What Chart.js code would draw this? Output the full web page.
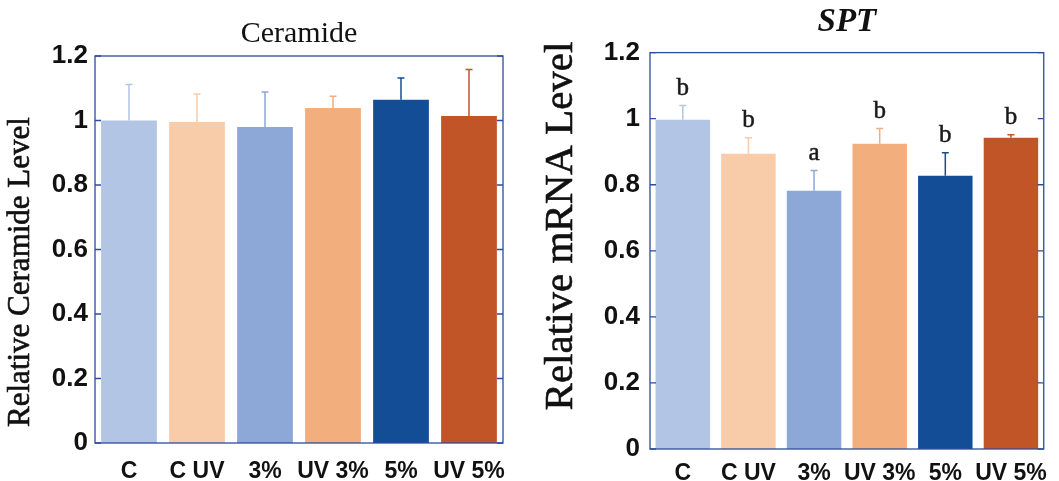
<!DOCTYPE html>
<html>
<head>
<meta charset="utf-8">
<script src="https://cdn.jsdelivr.net/npm/chart.js@4.4.1/dist/chart.umd.min.js"></script>
<style>
  html, body { margin: 0; padding: 0; background: #ffffff; }
  #wrap { position: relative; width: 1059px; height: 481px; overflow: hidden; }
  .box { position: absolute; top: 0; height: 481px; }
</style>
</head>
<body>
<div id="wrap">
  <div class="box" style="left:0;width:525px"><canvas id="c1"></canvas></div>
  <div class="box" style="left:525px;width:534px"><canvas id="c2"></canvas></div>
</div>
<script>
// ---- data ----
const categories = ["C", "C UV", "3%", "UV 3%", "5%", "UV 5%"];
const barColors = ["#B2C5E4", "#F8CBA9", "#8DA8D6", "#F3AE7E", "#134D95", "#C25527"];
const yTickValues = [0, 0.2, 0.4, 0.6, 0.8, 1, 1.2];

const ceramideTitle = "Ceramide";
const ceramideAxisTitle = "Relative Ceramide Level";
const ceramideMeans = [1.000, 0.995, 0.980, 1.039, 1.064, 1.014];
const ceramideErrors = [0.112, 0.087, 0.108, 0.036, 0.068, 0.144];

const sptTitle = "SPT";
const sptAxisTitle = "Relative mRNA Level";
const sptMeans = [0.997, 0.894, 0.782, 0.924, 0.827, 0.942];
const sptErrors = [0.043, 0.048, 0.061, 0.046, 0.070, 0.009];
const sptLetters = ["b", "b", "a", "b", "b", "b"];

const FRAME = "#2E4C9E";
const SANS = "'Liberation Sans', Arial, sans-serif";
const SERIF = "'Liberation Serif', 'Times New Roman', serif";

// plugin: frame, inward ticks, error bars, letters, vertical axis title
const decorPlugin = {
  id: 'decor',
  afterDatasetsDraw(chart, args, opts) {
    const ctx = chart.ctx;
    const a = chart.chartArea;
    const ys = chart.scales.y;
    const meta = chart.getDatasetMeta(0);
    ctx.save();
    // error bars
    meta.data.forEach((bar, i) => {
      const v = opts.means[i], e = opts.errors[i];
      const x = bar.x;
      const y0 = ys.getPixelForValue(v);
      const y1 = ys.getPixelForValue(v + e);
      ctx.strokeStyle = barColors[i];
      ctx.lineWidth = 1.5;
      ctx.beginPath();
      ctx.moveTo(x, y0); ctx.lineTo(x, y1);
      ctx.moveTo(x - 3.5, y1); ctx.lineTo(x + 3.5, y1);
      ctx.stroke();
      if (opts.letters) {
        ctx.fillStyle = "#1a1a1a";
        ctx.strokeStyle = "#1a1a1a";
        ctx.lineWidth = 0.5;
        ctx.font = "25px " + SERIF;
        ctx.textAlign = "center";
        ctx.textBaseline = "bottom";
        ctx.fillText(opts.letters[i], x, y1 - 5);
        ctx.strokeText(opts.letters[i], x, y1 - 5);
      }
    });
    // frame
    ctx.strokeStyle = FRAME;
    ctx.lineWidth = 1.3;
    ctx.strokeRect(a.left, a.top, a.right - a.left, a.bottom - a.top);
    // inward ticks
    yTickValues.forEach(t => {
      const y = ys.getPixelForValue(t);
      ctx.beginPath();
      ctx.moveTo(a.left, y); ctx.lineTo(a.left + 6, y);
      ctx.moveTo(a.right, y); ctx.lineTo(a.right - 6, y);
      ctx.stroke();
    });
    // vertical axis title
    ctx.translate(opts.axisTitleX, opts.axisTitleY);
    ctx.rotate(-Math.PI / 2);
    ctx.fillStyle = "#111";
    ctx.strokeStyle = "#111";
    ctx.lineWidth = 0.6;
    ctx.font = opts.axisTitleSize + "px " + SERIF;
    ctx.textAlign = "center";
    ctx.textBaseline = "middle";
    ctx.fillText(opts.axisTitle, 0, 0);
    ctx.strokeText(opts.axisTitle, 0, 0);
    ctx.restore();
  }
};

function makeChart(id, cfg) {
  return new Chart(document.getElementById(id), {
    type: 'bar',
    data: {
      labels: categories,
      datasets: [{
        data: cfg.means,
        backgroundColor: barColors,
        borderWidth: 0,
        barPercentage: cfg.barPct,
        categoryPercentage: 1.0
      }]
    },
    options: {
      responsive: true,
      maintainAspectRatio: false,
      animation: false,
      layout: { padding: { left: 0, right: cfg.padRight, top: 0, bottom: 0 } },
      plugins: {
        legend: { display: false },
        tooltip: { enabled: false },
        title: {
          display: true,
          text: cfg.title,
          fullSize: false,
          color: "#111",
          font: cfg.titleFont,
          padding: cfg.titlePad
        },
        decor: {
          means: cfg.means, errors: cfg.errors, letters: cfg.letters,
          axisTitle: cfg.axisTitle, axisTitleSize: cfg.axisTitleSize,
          axisTitleX: cfg.axisTitleX, axisTitleY: cfg.axisTitleY
        }
      },
      scales: {
        x: {
          grid: { display: false, drawTicks: false },
          border: { display: false },
          ticks: {
            color: "#111",
            font: { family: SANS, size: cfg.xFontSize, weight: 'bold' },
            padding: cfg.xPad,
            maxRotation: 0, autoSkip: false
          },
          afterFit(s) { s.height = cfg.xHeight; }
        },
        y: {
          min: 0, max: 1.2,
          afterBuildTicks(s) { s.ticks = yTickValues.map(v => ({ value: v })); },
          grid: { display: false, drawTicks: false },
          border: { display: false },
          ticks: {
            color: "#111",
            font: { family: SANS, size: cfg.yFontSize, weight: 'bold' },
            padding: cfg.yPad,
            callback: (v) => String(v)
          },
          afterFit(s) { s.width = cfg.yWidth; }
        }
      }
    },
    plugins: [decorPlugin]
  });
}

makeChart('c1', {
  means: ceramideMeans, errors: ceramideErrors, letters: null,
  title: ceramideTitle, axisTitle: ceramideAxisTitle,
  titleFont: { family: SERIF, size: 30, weight: 'normal', lineHeight: 1.2 },
  titlePad: { top: 16, bottom: 4 },
  padRight: 22, barPct: 0.82,
  xFontSize: 23, xPad: 15, xHeight: 38,
  yFontSize: 26, yPad: 7, yWidth: 95,
  axisTitleSize: 31, axisTitleX: 21, axisTitleY: 272
});

makeChart('c2', {
  means: sptMeans, errors: sptErrors, letters: sptLetters,
  title: sptTitle, axisTitle: sptAxisTitle,
  titleFont: { family: SERIF, size: 33, weight: 'bold', style: 'italic', lineHeight: 1.2 },
  titlePad: { top: 3, bottom: 10 },
  padRight: 11, barPct: 0.83,
  xFontSize: 23, xPad: 11, xHeight: 32,
  yFontSize: 26, yPad: 10, yWidth: 125,
  axisTitleSize: 41, axisTitleX: 36, axisTitleY: 226
});
</script>
</body>
</html>
